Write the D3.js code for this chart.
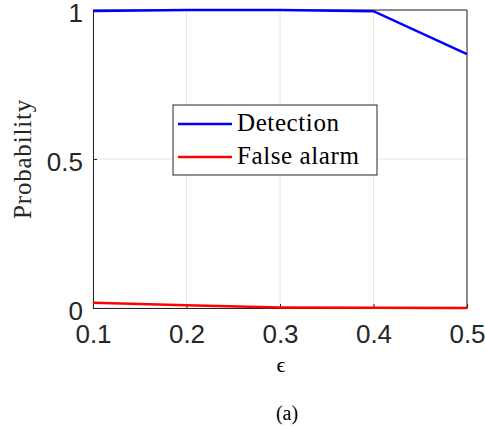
<html>
<script src="https://d3js.org/d3.v7.min.js"></script>
<body style="margin:0;background:#fff">
<div id="chart"></div>
<script>
// values
var epsilon = [0.1, 0.2, 0.3, 0.4, 0.5];
var detection = [0.997, 1.0, 1.0, 0.996, 0.852];
var falseAlarm = [0.018, 0.009, 0.002, 0.001, 0.0];
var xTicks = [0.1, 0.2, 0.3, 0.4, 0.5];
var yTicks = [0, 0.5, 1];
var seriesNames = ["Detection", "False alarm"];
var seriesColors = ["#0000ff", "#ff0000"];

var serif = "'Liberation Serif', 'Times New Roman', serif";
var sans = "'Liberation Sans', Arial, sans-serif";

var margin = {top: 10, right: 18, bottom: 121, left: 93},
    width = 485 - margin.left - margin.right,
    height = 429 - margin.top - margin.bottom;

var svg = d3.select("#chart").append("svg")
    .attr("width", 485).attr("height", 429)
    .append("g")
    .attr("transform", "translate(" + margin.left + "," + margin.top + ")");

var x = d3.scaleLinear().domain([0.1, 0.5]).range([0, width]);
var y = d3.scaleLinear().domain([0, 1]).range([height, 0]);

// grid
svg.selectAll(".gx").data(xTicks).enter().append("line")
    .attr("x1", d => x(d)).attr("x2", d => x(d))
    .attr("y1", 0).attr("y2", height)
    .attr("stroke", "#e6e6e6").attr("stroke-width", 1);
svg.selectAll(".gy").data(yTicks).enter().append("line")
    .attr("x1", 0).attr("x2", width)
    .attr("y1", d => y(d)).attr("y2", d => y(d))
    .attr("stroke", "#e6e6e6").attr("stroke-width", 1);

// axes
var xAxis = svg.append("g").attr("transform", "translate(0," + height + ")")
    .call(d3.axisBottom(x).tickValues(xTicks).tickSizeInner(-4).tickSizeOuter(0).tickPadding(17)
        .tickFormat(d3.format(".1f")));
var yAxis = svg.append("g")
    .call(d3.axisLeft(y).tickValues(yTicks).tickSizeInner(-4).tickSizeOuter(0).tickPadding(10)
        .tickFormat(d => d === 0.5 ? "0.5" : d));
[xAxis, yAxis].forEach(function(a) {
  a.selectAll("path").attr("stroke", "#262626");
  a.selectAll("line").attr("stroke", "#262626");
  a.selectAll("text").attr("fill", "#262626")
    .style("font-family", sans).style("font-size", "26px");
});
xAxis.selectAll("text").attr("dy", "0.71em");
yAxis.selectAll("text").attr("dy", "0.44em");

// top and right box edges
svg.append("line").attr("x1", 0).attr("x2", width).attr("y1", 0).attr("y2", 0).attr("stroke", "#262626");
svg.append("line").attr("x1", width).attr("x2", width).attr("y1", 0).attr("y2", height).attr("stroke", "#262626");

// lines
var line = d3.line().x(d => x(d[0])).y(d => y(d[1]));
[detection, falseAlarm].forEach(function(vals, i) {
  svg.append("path")
      .datum(epsilon.map((e, j) => [e, vals[j]]))
      .attr("d", line)
      .attr("fill", "none")
      .attr("stroke", seriesColors[i])
      .attr("stroke-width", 2.5);
});

// legend
var leg = svg.append("g").attr("transform", "translate(" + (173 - margin.left) + "," + (105 - margin.top) + ")");
leg.append("rect").attr("width", 204).attr("height", 70)
    .attr("fill", "#fff").attr("stroke", "#262626").attr("stroke-width", 1);
seriesNames.forEach(function(name, i) {
  var yy = 19 + i * 33;
  leg.append("line").attr("x1", 5).attr("x2", 59).attr("y1", yy).attr("y2", yy)
      .attr("stroke", seriesColors[i]).attr("stroke-width", 2.5);
  leg.append("text").attr("x", 64).attr("y", yy + 7).text(name)
      .style("font-family", serif).style("font-size", "25px")
      .style("letter-spacing", "0.6px");
});

// labels
svg.append("text")
    .attr("transform", "translate(" + (-62) + "," + (height / 2) + ") rotate(-90)")
    .attr("text-anchor", "middle")
    .style("font-family", serif).style("font-size", "25px")
    .style("letter-spacing", "0.8px")
    .attr("fill", "#262626")
    .text("Probability");
svg.append("text")
    .attr("x", width / 2 + 1).attr("y", height + 64)
    .attr("text-anchor", "middle")
    .style("font-family", serif).style("font-size", "22px")
    .text("\u03f5");
svg.append("text")
    .attr("x", width / 2 + 7).attr("y", height + 112)
    .attr("text-anchor", "middle")
    .style("font-family", serif).style("font-size", "20px")
    .text("(a)");
</script>
</body>
</html>
